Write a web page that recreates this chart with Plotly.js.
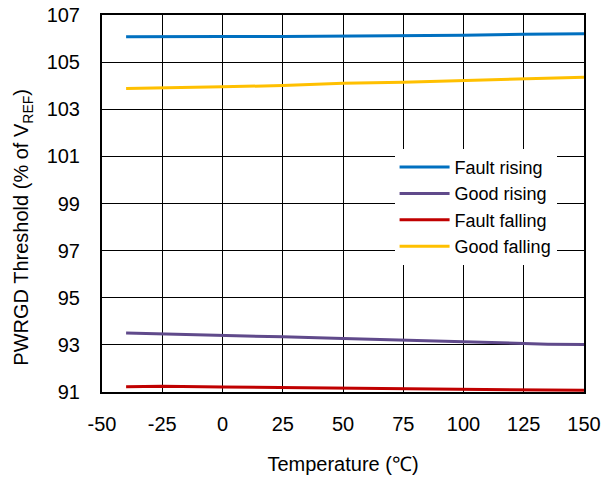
<!DOCTYPE html>
<html><head><meta charset="utf-8">
<script src="https://cdn.plot.ly/plotly-3.0.1.min.js"></script>
<style>html,body{margin:0;padding:0;background:#fff;}#chart{width:614px;height:483px;}</style>
</head><body><div id="chart"></div>
<script>
const temperature = [-40, -25, 0, 25, 50, 75, 100, 125, 135, 150];
const faultRising = [106.08, 106.09, 106.09, 106.09, 106.1, 106.11, 106.14, 106.18, 106.19, 106.2];
const goodRising = [93.5, 93.47, 93.42, 93.34, 93.27, 93.2, 93.13, 93.08, 93.03, 93.02];
const faultFalling = [91.22, 91.24, 91.21, 91.19, 91.17, 91.16, 91.12, 91.11, 91.1, 91.07];
const goodFalling = [103.88, 103.9, 103.95, 104.01, 104.1, 104.15, 104.22, 104.28, 104.31, 104.36];
const seriesNames = ["Fault rising", "Good rising", "Fault falling", "Good falling"];
const seriesColors = ["#0070C0", "#604A8B", "#C00000", "#FFC000"];
const xTicks = [-50, -25, 0, 25, 50, 75, 100, 125, 150];
const yTicks = [91, 93, 95, 97, 99, 101, 103, 105, 107];
const yTitle = 'PWRGD Threshold (% of V<sub>REF</sub>)';
const xTitle = 'Temperature (℃)';

const allSeries = [faultRising, goodRising, faultFalling, goodFalling];
const traces = allSeries.map((ys, i) => ({
  x: temperature, y: ys, name: seriesNames[i], type: 'scatter', mode: 'lines',
  line: {color: seriesColors[i], width: 3}
}));

const layout = {
  width: 614, height: 483,
  margin: {l: 102, r: 30, t: 15, b: 91},
  paper_bgcolor: '#fff', plot_bgcolor: '#fff',
  font: {family: 'Liberation Sans, Arial, sans-serif', color: '#000', size: 20},
  showlegend: true,
  legend: {x: 0.607, y: 0.645, xanchor: 'left', yanchor: 'top', bgcolor: '#fff',
    font: {size: 18}, itemwidth: 50},
  xaxis: {range: [-50, 150], tickvals: xTicks, ticktext: xTicks.map(String),
    showgrid: true, gridcolor: '#000', gridwidth: 1, zeroline: false,
    showline: true, linecolor: '#000', linewidth: 2, mirror: true,
    ticks: 'outside', ticklen: 13, tickcolor: 'rgba(0,0,0,0)',
    title: {text: xTitle, font: {size: 20}, standoff: 23},
    tickfont: {size: 20}, automargin: false, fixedrange: true},
  yaxis: {range: [91, 107], tickvals: yTicks, ticktext: yTicks.map(String),
    showgrid: true, gridcolor: '#000', gridwidth: 1, zeroline: false,
    showline: true, linecolor: '#000', linewidth: 2, mirror: true,
    ticks: 'outside', ticklen: 16, tickcolor: 'rgba(0,0,0,0)',
    tickfont: {size: 20}, automargin: false, fixedrange: true},
  annotations: [{
    text: yTitle, textangle: -90, xref: 'paper', yref: 'paper',
    x: 0, y: 0.436, xanchor: 'center', yanchor: 'middle', xshift: -79,
    showarrow: false, font: {size: 20, color: '#000'}
  }]
};
Plotly.newPlot('chart', traces, layout, {displayModeBar: false, staticPlot: true});
</script></body></html>
